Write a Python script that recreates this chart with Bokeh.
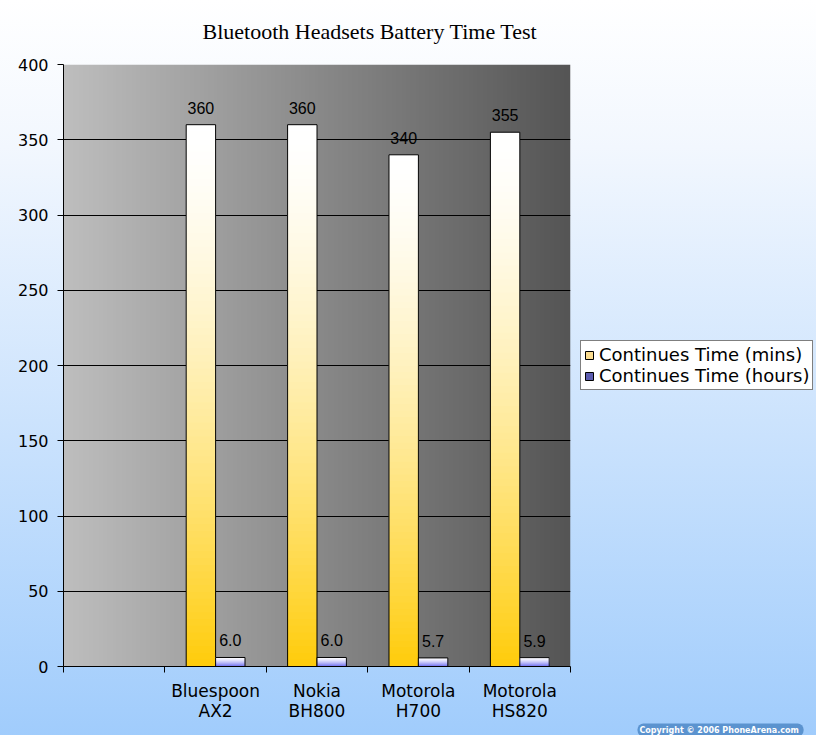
import numpy as np
from bokeh.plotting import figure
from bokeh.models import Range1d, FixedTicker, Legend, LegendItem, Title
from bokeh.core.properties import value
from bokeh.embed import file_html
from bokeh.resources import INLINE

# ---------------- data ----------------
title_text = "Bluetooth Headsets Battery Time Test"
categories = ["", "Bluespoon\nAX2", "Nokia\nBH800", "Motorola\nH700", "Motorola\nHS820"]
mins_values = [None, 360, 360, 340, 355]
hours_values = [None, 6.0, 6.0, 5.7, 5.9]
series_names = ["Continues Time (mins)", "Continues Time (hours)"]
y_ticks = [0, 50, 100, 150, 200, 250, 300, 350, 400]
copyright_text = "Copyright \u00a9 2006  PhoneArena.com"

# ---------------- figure ----------------
n_cat = len(categories)
p = figure(frame_width=507, frame_height=602,
           x_range=Range1d(0, n_cat), y_range=Range1d(0, y_ticks[-1]),
           output_backend="svg", toolbar_location=None,
           min_border_left=63, min_border_top=64, min_border_bottom=69,
           min_border_right=246)
p.border_fill_color = None
p.background_fill_color = None
p.outline_line_color = None
p.styles = {"background": "linear-gradient(to bottom, #ffffff 0%, #f2f7fe 20%, #a0ccfc 100%)"}

# title
p.title.text = title_text
p.title.text_font = "Liberation Serif"
p.title.text_font_size = "22px"
p.title.text_font_style = "normal"
p.title.text_color = "black"
p.title.align = "left"
p.title.vertical_align = "top"
p.title.offset = 139
p.title.standoff = 37

# plot-area horizontal gray gradient
g = np.linspace(190, 85, 256).astype(np.uint32)
img = (255 << 24) | (g << 16) | (g << 8) | g
img = img.reshape(1, -1)
p.image_rgba(image=[img], x=0, y=0, dw=n_cat, dh=y_ticks[-1], level="image")

# grid
p.xgrid.visible = False
p.ygrid.grid_line_color = "black"
p.ygrid.grid_line_width = 1

# axes
centers = [i + 0.5 for i in range(n_cat)]
bounds = [float(i) for i in range(n_cat + 1)]
xa = p.xaxis[0]
xa.ticker = FixedTicker(ticks=centers, minor_ticks=bounds)
xa.major_label_overrides = {c: lab for c, lab in zip(centers, categories)}
xa.major_tick_line_color = None
xa.major_tick_out = 0
xa.major_tick_in = 0
xa.minor_tick_line_color = "black"
xa.minor_tick_out = 6
xa.minor_tick_in = 0
xa.axis_line_color = "black"
xa.major_label_text_font = "DejaVu Sans"
xa.major_label_text_font_size = "17px"
xa.major_label_text_line_height = 1.0
xa.major_label_text_color = "black"
xa.major_label_standoff = 8

ya = p.yaxis[0]
ya.ticker = FixedTicker(ticks=y_ticks)
ya.major_tick_out = 6
ya.major_tick_in = 0
ya.major_tick_line_color = "black"
ya.minor_tick_line_color = None
ya.axis_line_color = "black"
ya.major_label_text_font = "DejaVu Sans"
ya.major_label_text_font_size = "16px"
ya.major_label_text_color = "black"
ya.major_label_standoff = 9

# ---------------- bars with vertical gradients ----------------
bar_w = 0.29
N = 80


def mix(c0, c1, t):
    return "#%02x%02x%02x" % tuple(int(round(a + (b - a) * t)) for a, b in zip(c0, c1))


def gradient_bars(vals, offset, bottom_rgb, fmt):
    L, R, T, C = [], [], [], []
    oL, oR, oT = [], [], []
    lx, ly, lt = [], [], []
    for i, v in enumerate(vals):
        if v is None:
            continue
        cx = centers[i] + offset
        for k in range(N - 1, -1, -1):  # tallest first, shorter ones painted over
            f = 1 - (k + 0.5) / N  # fraction from top
            L.append(cx - bar_w / 2)
            R.append(cx + bar_w / 2)
            T.append(v * (k + 1) / N)
            C.append(mix((255, 255, 255), bottom_rgb, f ** 1.5))
        oL.append(cx - bar_w / 2)
        oR.append(cx + bar_w / 2)
        oT.append(v)
        lx.append(cx)
        ly.append(v)
        lt.append(fmt.format(v))
    p.quad(left=L, right=R, bottom=[0] * len(T), top=T, fill_color=C, line_color=None)
    p.quad(left=oL, right=oR, bottom=[0] * len(oT), top=oT, fill_color=None,
           line_color="black", line_width=1)
    p.text(x=lx, y=ly, text=lt, text_align="center", text_baseline="bottom",
           y_offset=-11, text_font=value("Liberation Sans"), text_font_size="16px",
           text_color="black")


gradient_bars(mins_values, -bar_w / 2, (255, 204, 10), "{:.0f}")
gradient_bars(hours_values, bar_w / 2, (110, 110, 240), "{:.1f}")

# ---------------- legend ----------------
far = n_cat * 10
r1 = p.quad(left=[far], right=[far + 1], bottom=[0], top=[1], fill_color="#fbdc8e", line_color="black")
r2 = p.quad(left=[far], right=[far + 1], bottom=[0], top=[1], fill_color="#5c5cb0", line_color="black")
legend = Legend(items=[LegendItem(label=series_names[0], renderers=[r1]),
                       LegendItem(label=series_names[1], renderers=[r2])],
                location="center_left", glyph_width=10, glyph_height=10,
                label_text_font="DejaVu Sans", label_text_font_size="18px",
                label_text_color="black", label_height=21, label_standoff=5,
                border_line_color="black", border_line_width=1,
                background_fill_color="white", background_fill_alpha=1,
                padding=3, spacing=0, margin=10)
p.add_layout(legend, "right")

# copyright badge
cp = Title(text=copyright_text, align="left", vertical_align="top", offset=574, standoff=0,
           text_font="DejaVu Sans", text_font_size="8px", text_font_style="bold",
           text_color="white", background_fill_color="#5b93cf", background_fill_alpha=1,
           padding=2, border_radius=6)
p.add_layout(cp, "below")

open("out.html", "w").write(file_html(p, INLINE))
